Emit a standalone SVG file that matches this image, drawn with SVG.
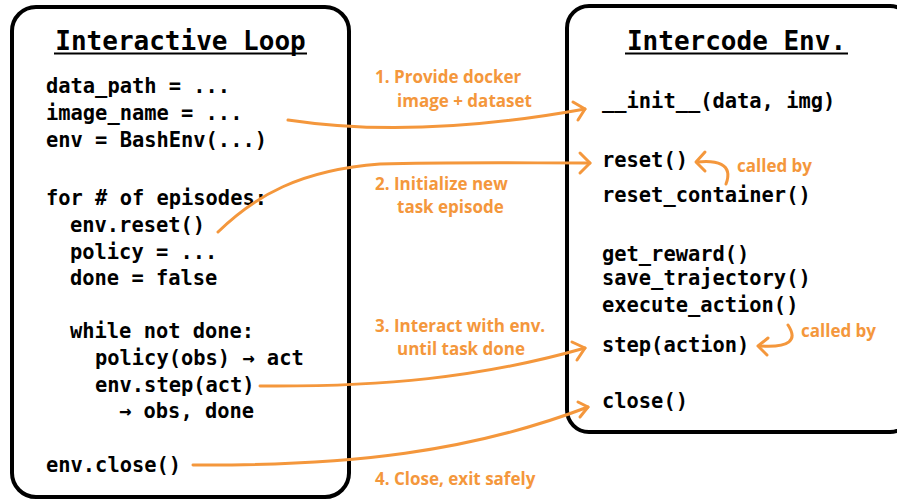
<svg xmlns="http://www.w3.org/2000/svg" width="897" height="501" viewBox="0 0 897 501">
  <style>
    .box { fill: #ffffff; stroke: #000000; stroke-width: 4; }
    .title { font-family: "DejaVu Sans Mono", "Liberation Mono", monospace; font-weight: bold; font-size: 26px; fill: #000; }
    .code { font-family: "DejaVu Sans Mono", "Liberation Mono", monospace; font-weight: bold; font-size: 20.4px; fill: #000; }
    .ul { stroke: #000; stroke-width: 2; }
    .lbl { font-family: "Open Sans", Lato, sans-serif; font-weight: 700; font-size: 17px; fill: #F4973C; }
    .wire { fill: none; stroke: #F4973C; stroke-width: 3; stroke-linecap: round; stroke-linejoin: round; }
  </style>
  <rect width="897" height="501" fill="#ffffff"/>

  <!-- left panel: the driver loop -->
  <g id="interactive-loop">
    <rect class="box" x="12" y="7" width="337" height="490" rx="24"/>
    <text class="title" x="180.5" y="50" text-anchor="middle">Interactive Loop</text>
    <line class="ul" x1="54" y1="53.5" x2="307" y2="53.5"/>
    <text class="code" x="46" y="93">data_path = ...</text>
    <text class="code" x="46" y="120">image_name = ...</text>
    <text class="code" x="46" y="147">env = BashEnv(...)</text>
    <text class="code" x="46" y="205">for # of episodes:</text>
    <text class="code" x="70" y="232">env.reset()</text>
    <text class="code" x="70" y="259">policy = ...</text>
    <text class="code" x="70" y="285">done = false</text>
    <text class="code" x="70" y="338">while not done:</text>
    <text class="code" x="95" y="365">policy(obs) → act</text>
    <text class="code" x="95" y="392">env.step(act)</text>
    <text class="code" x="119" y="418">→ obs, done</text>
    <text class="code" x="46" y="472">env.close()</text>
  </g>

  <!-- right panel: environment API -->
  <g id="intercode-env">
    <rect class="box" x="567" y="6" width="345" height="426" rx="22"/>
    <text class="title" x="736.5" y="50" text-anchor="middle">Intercode Env.</text>
    <line class="ul" x1="625" y1="53.5" x2="848" y2="53.5"/>
    <text class="code" x="602" y="108">__init__(data, img)</text>
    <text class="code" x="602" y="167">reset()</text>
    <text class="code" x="602" y="202">reset_container()</text>
    <text class="code" x="602" y="261">get_reward()</text>
    <text class="code" x="602" y="285">save_trajectory()</text>
    <text class="code" x="602" y="312">execute_action()</text>
    <text class="code" x="602" y="352">step(action)</text>
    <text class="code" x="602" y="408">close()</text>
  </g>

  <!-- connectors between the panels -->
  <g id="connectors">
    <path class="wire" d="M288,120 C380,134 480,128 585,109"/>
    <path class="wire" d="M573,102 L585,109 L578,120"/>

    <path class="wire" d="M218,232 C255,196 300,170 380,164 C450,162 520,163 590,163"/>
    <path class="wire" d="M580,153 L590,163 L580,173"/>

    <path class="wire" d="M260,386 C380,387 480,378 585,348"/>
    <path class="wire" d="M572,342 L585,348 L577,360"/>

    <path class="wire" d="M193,465 C350,466 470,452 588,407"/>
    <path class="wire" d="M578,402 L588,407 L580,417"/>

    <path class="wire" d="M697,162 C715,160 734,163 726,184"/>
    <path class="wire" d="M705,152 L696,162 L705,171"/>

    <path class="wire" d="M788,325 C798,340 790,348 760,346"/>
    <path class="wire" d="M768,338 L758,346 L767,355"/>

    <text class="lbl" x="375" y="83">1. Provide docker</text>
    <text class="lbl" x="397" y="107">image + dataset</text>
    <text class="lbl" x="375" y="190">2. Initialize new</text>
    <text class="lbl" x="397" y="213">task episode</text>
    <text class="lbl" x="375" y="332">3. Interact with env.</text>
    <text class="lbl" x="397" y="355">until task done</text>
    <text class="lbl" x="375" y="485">4. Close, exit safely</text>
    <text class="lbl" x="737" y="172">called by</text>
    <text class="lbl" x="801" y="337">called by</text>
  </g>
</svg>
